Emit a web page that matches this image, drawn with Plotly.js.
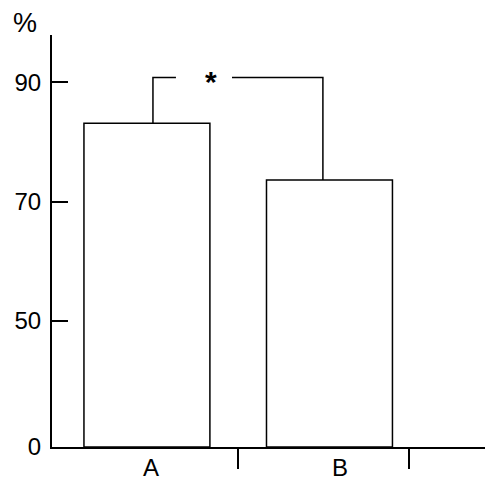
<!DOCTYPE html>
<html>
<head>
<meta charset="utf-8">
<script src="https://cdn.plot.ly/plotly-3.0.1.min.js"></script>
<style>
  html, body { margin: 0; padding: 0; background: #fff; }
  #chart { width: 500px; height: 490px; }
</style>
</head>
<body>
<div id="chart"></div>
<script>
/* ---- Data ---- */
var categories = ['A', 'B'];
var catPos     = [1, 2];
var values     = [83.1, 73.6];          // percent
var yTickVals  = [50, 70, 90];
var yTickText  = ['50', '70', '90'];
var zeroLabel  = '0';
var sigLabel   = '*';

/* axis is broken below 50: "0" sits at this position */
var ZERO_POS = 28.9;
var BAR_W = 0.69;
var FONT = 'Liberation Sans, Arial, sans-serif';

var bars = {
  type: 'bar',
  x: catPos,
  y: values.map(function(v) { return v - ZERO_POS; }),
  base: ZERO_POS,
  width: BAR_W,
  marker: { color: '#ffffff', line: { color: '#000000', width: 1.5 } },
  hoverinfo: 'skip'
};

// significance bracket between the two bars, gap left for the star
var bracketY = Math.max.apply(null, values) + 7.7;
var xa = catPos[0] + 0.033, xb = catPos[1] - 0.036;
var bracket = {
  type: 'scatter', mode: 'lines',
  x: [xa, xa, xa + 0.126, null, xa + 0.433, xb, xb],
  y: [values[0], bracketY, bracketY, null, bracketY, bracketY, values[1]],
  line: { color: '#000000', width: 1.5 },
  hoverinfo: 'skip', showlegend: false
};

var annotations = categories.map(function(c, i) {
  return {
    x: catPos[i] + [0.02, 0.06][i], y: ZERO_POS, xref: 'x', yref: 'y',
    text: c, showarrow: false, yanchor: 'top', yshift: -5,
    font: { family: FONT, size: 24, color: '#000' }
  };
});
annotations.push({
  x: xa + 0.317, y: bracketY, xref: 'x', yref: 'y', text: '<b>' + sigLabel + '</b>',
  showarrow: false, yanchor: 'middle', yshift: -4,
  font: { family: FONT, size: 30, color: '#000' }
});
annotations.push({
  x: 0, y: 1, xref: 'paper', yref: 'paper', text: '%',
  showarrow: false, xanchor: 'right', yanchor: 'bottom', xshift: -13, yshift: -5,
  font: { family: FONT, size: 27, color: '#000' }
});

var layout = {
  width: 500, height: 490,
  margin: { l: 52, r: 15, t: 35, b: 43 },
  paper_bgcolor: '#fff', plot_bgcolor: '#fff',
  showlegend: false,
  font: { family: FONT, size: 24, color: '#000' },
  xaxis: {
    range: [0.48, 2.852], showgrid: false, zeroline: false,
    showline: true, linecolor: '#000', linewidth: 2,
    tickvals: [1.5, 2.436], ticktext: ['', ''],
    ticks: 'outside', ticklen: 20, tickwidth: 2, tickcolor: '#000'
  },
  yaxis: {
    range: [ZERO_POS, 97.9], showgrid: false, zeroline: false,
    showline: true, linecolor: '#000', linewidth: 2,
    tickvals: [ZERO_POS].concat(yTickVals),
    ticktext: [zeroLabel].concat(yTickText),
    ticks: 'inside', ticklen: 16, tickwidth: 2, tickcolor: '#000',
    ticklabelstandoff: 4,
    tickfont: { family: FONT, size: 24, color: '#000' }
  },
  annotations: annotations
};

Plotly.newPlot('chart', [bars, bracket], layout, { displayModeBar: false, staticPlot: true });
</script>
</body>
</html>
